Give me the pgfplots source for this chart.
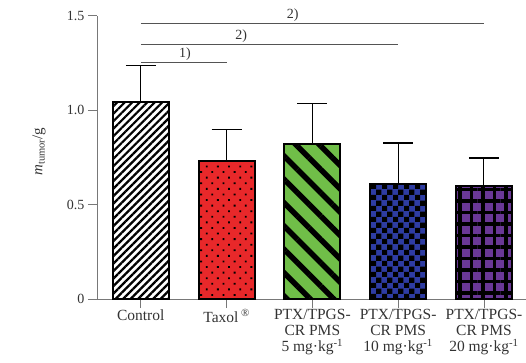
\documentclass[border=0pt]{standalone}
\usepackage{pgfplots}
\pgfplotsset{compat=1.18}
\usepackage{fontspec}
\setmainfont{Liberation Serif}
\usetikzlibrary{patterns.meta}
\definecolor{cred}{RGB}{232,40,42}
\definecolor{cgreen}{RGB}{112,190,72}
\definecolor{cblue}{RGB}{46,60,162}
\definecolor{cpurple}{RGB}{106,56,150}
\definecolor{axgray}{RGB}{120,120,120}
\tikzdeclarepattern{
  name=checker,
  type=uncolored,
  bottom left={(0pt,0pt)},
  top right={(10.6pt,10.6pt)},
  tile size={(10.6pt,10.6pt)},
  code={
    \fill (0pt,0pt) rectangle (5.3pt,5.3pt);
    \fill (5.3pt,5.3pt) rectangle (10.6pt,10.6pt);
  }
}
\begin{document}
\begin{tikzpicture}
\begin{axis}[
  name=ax,
  scale only axis,
  width=429pt, height=283.3pt,
  xmin=-0.51, xmax=4.49,
  ymin=0, ymax=1.5,
  axis x line=bottom, axis y line=left,
  axis line style={-, axgray, line width=0.8pt},
  tick style={axgray, line width=0.8pt},
  tick align=outside,
  major tick length=9pt,
  xtick={0,1,2,3,4},
  xticklabels={Control, Taxol\,\textsuperscript{\textregistered}, {PTX/TPGS-\\CR PMS\\5 mg·kg\textsuperscript{-1}}, {PTX/TPGS-\\CR PMS\\10 mg·kg\textsuperscript{-1}}, {PTX/TPGS-\\CR PMS\\20 mg·kg\textsuperscript{-1}}},
  xticklabel style={align=center, font=\fontsize{15.5}{16}\selectfont, text=black!80, inner sep=0pt, yshift=-1.5pt},
  ytick={0,0.5,1,1.5},
  yticklabels={0,0.5,1.0,1.5},
  yticklabel style={font=\fontsize{14}{15}\selectfont, text=black!80},
  ylabel={\textit{m}\textsubscript{tumor}/g},
  ylabel style={at={(axis description cs:-0.135,0.52)}, anchor=center, font=\fontsize{15}{16}\selectfont, text=black!80},
  clip=false,
  ybar, bar width=56pt, bar shift=0pt,
  error bars/y dir=plus, error bars/y explicit,
  error bars/error bar style={black, line width=1pt},
  error bars/error mark options={black, line width=1.4pt, mark size=15pt, rotate=90},
]
\addplot[draw=black, line width=2pt, fill=white,
  postaction={pattern={Lines[angle=45,distance=5.3pt,line width=2.2pt]}, pattern color=black}]
  coordinates {(0,1.041) +- (0,0.194)};
\addplot[draw=black, line width=2pt, fill=cred,
  postaction={pattern={Dots[angle=45,distance=7.9pt,radius=1.3pt]}, pattern color=black}]
  coordinates {(1,0.732) +- (0,0.166)};
\addplot[draw=black, line width=2pt, fill=cgreen,
  postaction={pattern={Lines[angle=-45,distance=16.5pt,line width=5.5pt]}, pattern color=black}]
  coordinates {(2,0.820) +- (0,0.214)};
\addplot[draw=black, line width=2pt, fill=cblue,
  postaction={pattern=checker, pattern color=black}]
  coordinates {(3,0.607) +- (0,0.219)};
\addplot[draw=black, line width=2pt, fill=cpurple,
  postaction={pattern={Hatch[angle=0,distance=11.5pt,line width=3.8pt]}, pattern color=black}]
  coordinates {(4,0.598) +- (0,0.148)};
\draw[axgray!70!black, line width=0.8pt] (axis cs:0,1.46) -- (axis cs:4,1.46);
\draw[axgray!70!black, line width=0.8pt] (axis cs:0,1.35) -- (axis cs:3,1.35);
\draw[axgray!70!black, line width=0.8pt] (axis cs:0,1.253) -- (axis cs:1,1.253);
\node[anchor=south, inner sep=1.5pt, font=\fontsize{14}{15}\selectfont, text=black!80] at (axis cs:1.77,1.46) {2)};
\node[anchor=south, inner sep=1.5pt, font=\fontsize{14}{15}\selectfont, text=black!80] at (axis cs:1.17,1.35) {2)};
\node[anchor=south, inner sep=1.5pt, font=\fontsize{14}{15}\selectfont, text=black!80] at (axis cs:0.515,1.253) {1)};
\end{axis}
\pgfresetboundingbox
\path ([xshift=-97pt,yshift=-63pt]ax.south west) rectangle ([yshift=15.7pt]ax.north east);
\end{tikzpicture}
\end{document}
